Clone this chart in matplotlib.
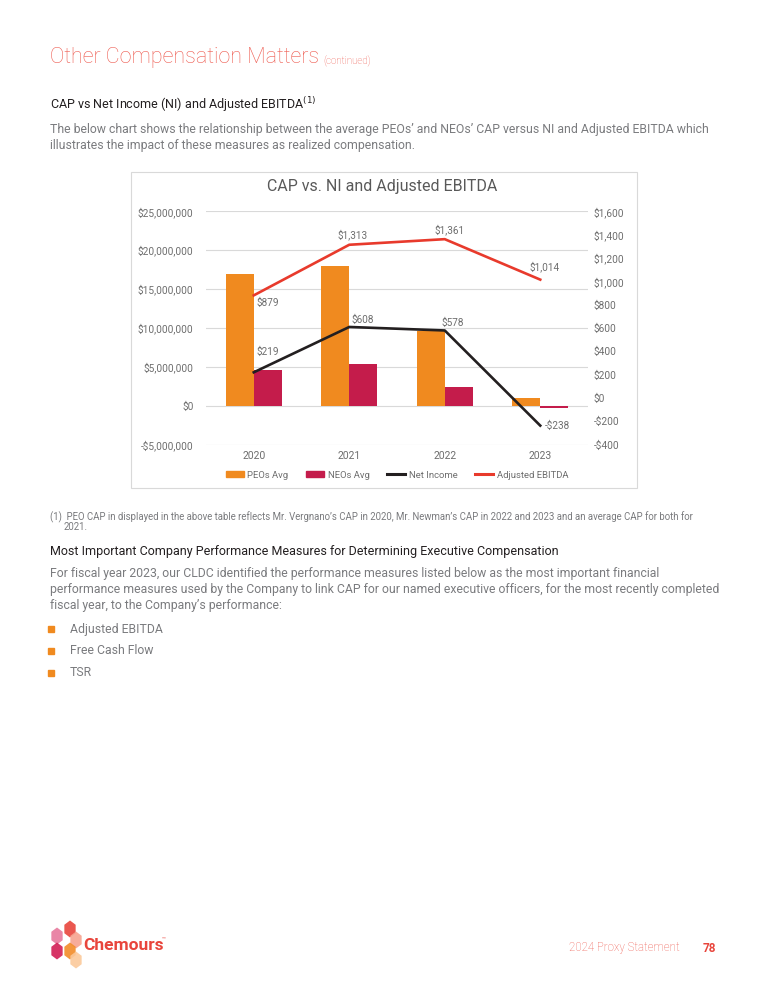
import matplotlib
matplotlib.use("Agg")
import matplotlib.pyplot as plt
from matplotlib.patches import Rectangle, RegularPolygon, Patch
from matplotlib.lines import Line2D
from matplotlib.ticker import FuncFormatter, MultipleLocator

plt.rcParams['font.family'] = ['Roboto', 'DejaVu Sans']

# data
years = ["2020", "2021", "2022", "2023"]
peo_avg = [16.9e6, 17.9e6, 9.65e6, 0.95e6]
neo_avg = [4.55e6, 5.36e6, 2.44e6, -0.3e6]
net_income = [219, 608, 578, -238]
adj_ebitda = [879, 1313, 1361, 1014]

bullets = ["Adjusted EBITDA", "Free Cash Flow", "TSR"]

ORANGE = "#F08A1F"
CRIMSON = "#C41C4B"
BLACK = "#231F20"
RED = "#E83A2C"
CORAL = "#EE5A4F"
GRAY = "#7A7B7E"
AXGRAY = "#6E6E6E"

W, H = 768, 1000
fig = plt.figure(figsize=(W / 100, H / 100), dpi=100)


def fx(px):
    return px / W


def fy(py):
    return 1 - py / H


def money(v):
    v = int(round(v))
    return f"${v:,}" if v >= 0 else f"-${-v:,}"


# ---- page text ----
fig.text(fx(50), fy(58), "Other Compensation Matters", color=CORAL, fontsize=15.5,
         fontweight="light", va="center", ha="left")
fig.text(fx(323), fy(61), "(continued)", color=CORAL, fontsize=7,
         fontweight="light", va="center", ha="left")

fig.text(fx(50), fy(105), r"CAP vs Net Income (NI) and Adjusted EBITDA$^{\mathrm{(1)}}$",
         color=BLACK, fontsize=9, va="center", ha="left")
fig.text(fx(50), fy(130), "The below chart shows the relationship between the average PEOs’ and NEOs’ "
         "CAP versus NI and Adjusted EBITDA which", color=GRAY, fontsize=8.8,
         va="center", ha="left")
fig.text(fx(50), fy(146), "illustrates the impact of these measures as realized compensation.",
         color=GRAY, fontsize=8.8, va="center", ha="left")

# chart frame
fig.patches.append(Rectangle((fx(131), fy(488)), fx(637) - fx(131), fy(172) - fy(488),
                             transform=fig.transFigure, fill=False,
                             edgecolor="#D9D9D9", linewidth=0.8))
fig.text(fx(382), fy(186), "CAP vs. NI and Adjusted EBITDA", color="#595959",
         fontsize=11.5, va="center", ha="center")

# ---- chart ----
ax = fig.add_axes([fx(206), fy(444.5), fx(588) - fx(206), fy(211.3) - fy(444.5)])
ax2 = ax.twinx()

x = list(range(len(years)))
bw = 0.293
ax.bar([i - bw / 2 for i in x], peo_avg, width=bw, color=ORANGE, zorder=2)
ax.bar([i + bw / 2 for i in x], neo_avg, width=bw, color=CRIMSON, zorder=2)

ax.set_xlim(-0.5, len(years) - 0.5)
ax.set_ylim(-5e6, 25e6)
ax.yaxis.set_major_locator(MultipleLocator(5e6))
ax.yaxis.set_major_formatter(FuncFormatter(lambda v, p: money(v)))
ax.grid(axis="y", color="#D9D9D9", linewidth=0.8, zorder=0)
ax.set_axisbelow(True)
ax.set_xticks(x)
ax.set_xticklabels(years)

ax2.plot(x, net_income, color=BLACK, linewidth=1.9, zorder=3)
ax2.plot(x, adj_ebitda, color=RED, linewidth=1.9, zorder=3)
ax2.set_ylim(-400, 1600)
ax2.yaxis.set_major_locator(MultipleLocator(200))
ax2.yaxis.set_major_formatter(FuncFormatter(lambda v, p: money(v)))

for a in (ax, ax2):
    for s in a.spines.values():
        s.set_visible(False)
    a.tick_params(length=0, labelsize=7.3, labelcolor=AXGRAY)
ax.tick_params(axis="y", pad=9)
ax.tick_params(axis="x", pad=5, labelsize=7.5)
ax2.tick_params(axis="y", pad=4)

# data labels (offsets in px: right, up)
ebitda_off = [(14, -7), (3, 10), (5, 9), (4, 13)]
ni_off = [(14, 20), (14, 7), (8, 8), (17, 0)]
for vals, offs in ((adj_ebitda, ebitda_off), (net_income, ni_off)):
    for i, (v, (dx, dy)) in enumerate(zip(vals, offs)):
        ax2.annotate(money(v), xy=(i, v), xytext=(dx / 1.389, dy / 1.389),
                     textcoords="offset points", ha="center", va="center",
                     fontsize=7.2, color=AXGRAY, zorder=4)

handles = [Patch(color=ORANGE), Patch(color=CRIMSON),
           Line2D([], [], color=BLACK, linewidth=2.2),
           Line2D([], [], color=RED, linewidth=2.2)]
labels = ["PEOs Avg", "NEOs Avg", "Net Income", "Adjusted EBITDA"]
leg = fig.legend(handles, labels, loc="center", bbox_to_anchor=(fx(397), fy(475)),
                 ncol=4, frameon=False, fontsize=6.8, handlelength=1.9, handleheight=0.6,
                 handletextpad=0.35, columnspacing=1.9)
for t in leg.get_texts():
    t.set_color(AXGRAY)

# ---- text below chart ----
fig.text(fx(50), fy(517), "(1)  PEO CAP in displayed in the above table reflects Mr. Vergnano’s CAP in 2020, "
         "Mr. Newman’s CAP in 2022 and 2023 and an average CAP for both for",
         color=GRAY, fontsize=6.9, va="center", ha="left")
fig.text(fx(64), fy(527), "2021.", color=GRAY, fontsize=6.9, va="center", ha="left")

fig.text(fx(50), fy(552), "Most Important Company Performance Measures for Determining Executive Compensation",
         color=BLACK, fontsize=9, va="center", ha="left")
para = ["For fiscal year 2023, our CLDC identified the performance measures listed below as the most important financial",
        "performance measures used by the Company to link CAP for our named executive officers, for the most recently completed",
        "fiscal year, to the Company’s performance:"]
for k, line in enumerate(para):
    fig.text(fx(50), fy(574 + 16 * k), line, color=GRAY, fontsize=8.8,
             va="center", ha="left")

for k, b in enumerate(bullets):
    yy = 629 + 22 * k
    fig.patches.append(Rectangle((fx(48), fy(yy + 3)), fx(6), 6 / H,
                                 transform=fig.transFigure, color=ORANGE))
    fig.text(fx(70), fy(yy), b, color=GRAY, fontsize=8.8,
             va="center", ha="left")

# ---- footer ----
logo_cols = ["#E7799C", "#E8453C", "#F7A38F", "#D21F55", "#F28C28", "#FBC99A"]
logo_pos = [(57, 936), (70, 929), (76, 940), (57, 951), (70, 951), (76, 960)]
for (px, py), c in zip(logo_pos, logo_cols):
    fig.patches.append(RegularPolygon((fx(px), fy(py)), numVertices=6, radius=8.5 / H,
                                      orientation=0.0, transform=fig.transFigure,
                                      facecolor=c, edgecolor="none", alpha=0.9))
fig.text(fx(83), fy(945), "Chemours", color="#E8453C", fontsize=12.5,
         fontweight="bold", va="center", ha="left")
fig.text(fx(162), fy(939), "™", color="#E8453C", fontsize=4.5, va="center", ha="left")

fig.text(fx(680), fy(948), "2024 Proxy Statement", color=CORAL, fontsize=8.3,
         fontweight="light", va="center", ha="right")
fig.text(fx(703), fy(948), "78", color="#E8453C", fontsize=8.5, fontweight="bold",
         va="center", ha="left")

fig.savefig("out.png", dpi=100)
